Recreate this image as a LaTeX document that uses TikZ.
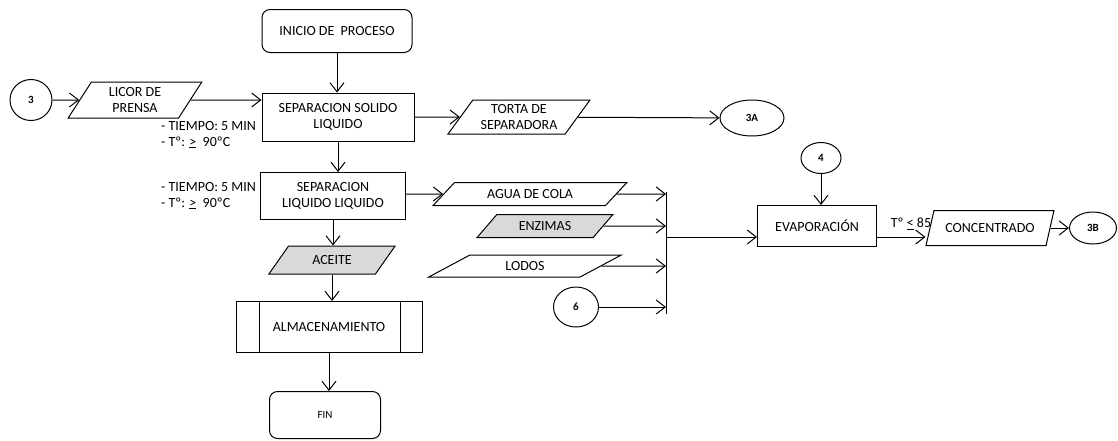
\documentclass[tikz,border=0pt]{standalone}
\usepackage{fontspec}
\setmainfont{Carlito}
\usetikzlibrary{shapes.geometric,arrows.meta,positioning,calc}

\begin{document}
\begin{tikzpicture}[x=1pt,y=-1pt,
    every node/.style={font=\fontsize{14}{16}\selectfont, align=center, inner sep=1pt},
    flecha/.style={-{Straight Barb[length=9pt,width=14pt]}, line width=1pt},
    proceso/.style={draw, line width=1pt, rectangle, minimum width=#1},
    terminal/.style={draw, line width=1pt, rounded corners=8pt},
    datos/.style={draw, line width=1pt, trapezium, trapezium left angle=#1,
        trapezium right angle={180-#1}, trapezium stretches=true},
    conector/.style={draw, line width=1pt, ellipse, inner sep=0pt,
        font=\fontsize{11}{13}\selectfont\bfseries},
    almacen/.style={proceso=186, path picture={
        \draw[line width=1pt] ([xshift=23pt]path picture bounding box.north west) -- ([xshift=23pt]path picture bounding box.south west)
            ([xshift=-22pt]path picture bounding box.north east) -- ([xshift=-22pt]path picture bounding box.south east);}}]
    \useasboundingbox (0,0) rectangle (1118,440);

    % columna principal
    \node[terminal, minimum width=150, minimum height=43] (inicio) at (337,31) {INICIO DE\ \ PROCESO};
    \node[proceso=152, minimum height=48] (sep1) at (338,117) {SEPARACION SOLIDO\\LIQUIDO};
    \node[proceso=145, minimum height=47] (sep2) at (333,196) {SEPARACION\\LIQUIDO LIQUIDO};
    \node[datos=50, fill=gray!30, minimum width=127, minimum height=28] (aceite) at (332,260) {ACEITE};
    \node[almacen, minimum height=51] (almac) at (329,327) {ALMACENAMIENTO};
    \node[terminal, minimum width=111, minimum height=47, font=\fontsize{11}{13}\selectfont] (fin) at (325,415) {FIN};

    % condiciones
    \node[anchor=north west, align=left] (cond1) at (160,120) {- TIEMPO: 5 MIN\\- Tº: \underline{>}\ \ 90ºC};
    \node[anchor=north west, align=left] (cond2) at (160,181) {- TIEMPO: 5 MIN\\- Tº: \underline{>}\ \ 90ºC};

    % entrada y torta
    \node[conector, minimum width=42, minimum height=41] (c3) at (31,100) {3};
    \node[datos=62, minimum width=134, minimum height=36] (licor) at (135,100) {LICOR DE\\PRENSA};
    \node[datos=52, minimum width=142, minimum height=34] (torta) at (519,117) {TORTA DE\\SEPARADORA};
    \node[conector, minimum width=64, minimum height=36] (c3a) at (752,118) {3A};

    % corrientes a evaporacion
    \node[datos=42, minimum width=194, minimum height=23] (agua) at (530,194) {AGUA DE COLA};
    \node[datos=45, fill=gray!30, minimum width=136, minimum height=23] (enzimas) at (545,226) {ENZIMAS};
    \node[datos=36, minimum width=194, minimum height=22] (lodos) at (525,266) {LODOS};
    \node[conector, minimum width=45, minimum height=40] (c6) at (576,307) {6};
    \coordinate (bartop) at (666,192);
    \coordinate (barmid) at (666,237);
    \coordinate (barbot) at (666,314);

    \node[proceso=119, minimum height=41] (evap) at (817,226) {EVAPORACIÓN};
    \node[conector, minimum width=40, minimum height=31] (c4) at (821,158) {4};
    \node[datos=60, minimum width=128, minimum height=35] (conc) at (990,228) {CONCENTRADO};
    \node[conector, minimum width=47, minimum height=32] (c3b) at (1093,228) {3B};
    \node (temp) at (911,224) {Tº \underline{<} 85};

    \draw[flecha] (inicio) -- (inicio |- sep1.north);
    \draw[flecha] (c3) -- (licor);
    \draw[flecha] (licor) -- (licor -| sep1.west);
    \draw[flecha] (sep1.east |- torta) -- (torta);
    \draw[flecha] (torta) -- (c3a);
    \draw[flecha] (sep1) -- (sep1 |- sep2.north);
    \draw[flecha] (sep2) -- (sep2 |- aceite.north);
    \draw[flecha] (aceite) -- (aceite |- almac.north);
    \draw[flecha] (almac) -- (almac |- fin.north);

    \draw[flecha] (sep2.east |- agua) -- (agua);
    \draw[flecha] (agua) -- (agua -| bartop);
    \draw[flecha] (enzimas) -- (enzimas -| bartop);
    \draw[flecha] (lodos) -- (lodos -| bartop);
    \draw[flecha] (c6) -- (c6 -| bartop);
    \draw[line width=1pt] (bartop) -- (barbot);
    \draw[flecha] (barmid) -- (barmid -| evap.west);
    \draw[flecha] (c4) -- (c4 |- evap.north);
    \draw[flecha] (evap.east |- barmid) -- ([xshift=-4pt]conc.west |- barmid);
    \draw[flecha] (conc) -- (c3b);
\end{tikzpicture}
\end{document}
